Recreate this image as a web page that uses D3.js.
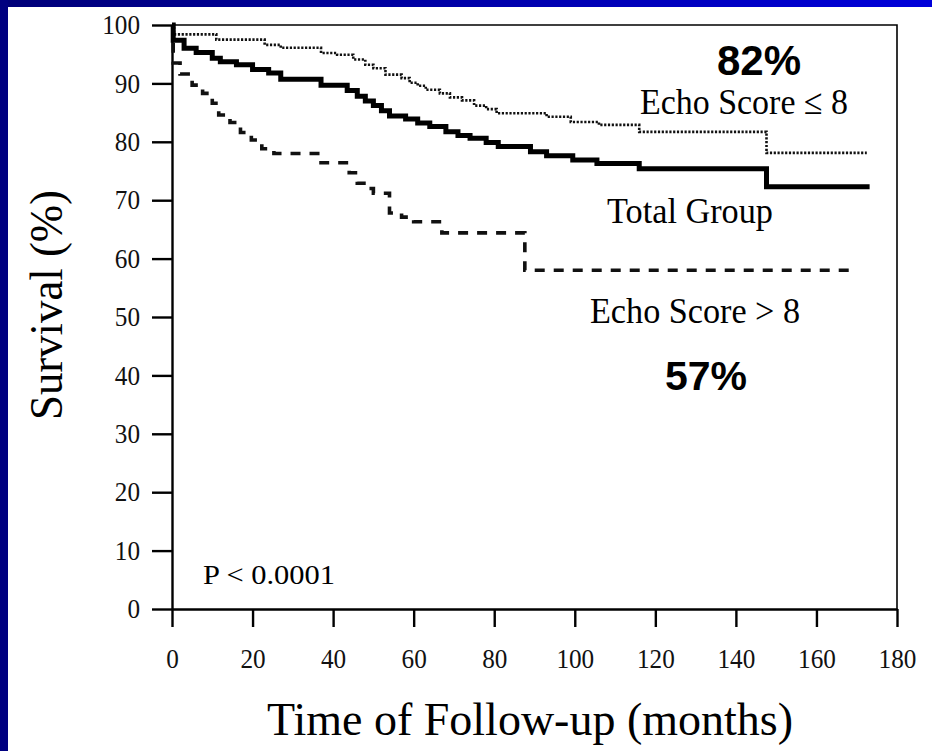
<!DOCTYPE html>
<html>
<head>
<meta charset="utf-8">
<script src="https://cdn.jsdelivr.net/npm/d3@7"></script>
<style>
  html, body { margin: 0; padding: 0; background: #ffffff; }
  svg { display: block; }
</style>
</head>
<body>
<svg id="chart" width="932" height="751"></svg>
<script>
// ---------------- DATA ----------------
// Total group (solid), Kaplan-Meier steps: time in months, survival in %
const totalTime = [0, 0.3, 3, 6, 10, 12, 16, 20, 24, 27, 37, 43.5, 46, 48, 50, 52, 54, 58, 61, 64, 68, 71, 74, 78, 81, 89, 93, 99.5, 105.5, 116, 147.6, 173.2];
const totalSurv = [100, 97.4, 96.0, 95.3, 94.3, 93.7, 93.2, 92.4, 91.8, 90.7, 89.7, 88.8, 87.8, 87.0, 86.2, 85.3, 84.4, 83.9, 83.2, 82.6, 81.7, 81.1, 80.6, 79.9, 79.2, 78.3, 77.6, 76.9, 76.3, 75.4, 72.3, 72.3];

// Echo Score <= 8 (dotted)
const lowTime = [0, 0.5, 11, 23, 27, 37, 41, 45, 48, 50, 53, 57, 59, 61, 63, 66.5, 69, 72, 75, 78, 80.6, 93, 99, 106, 116, 147.6, 172.5];
const lowSurv = [100, 98.4, 97.5, 96.6, 96.1, 95.2, 94.9, 94.1, 93.2, 92.6, 91.5, 90.9, 90.1, 89.6, 88.9, 88.3, 87.6, 87.1, 86.2, 85.6, 84.9, 84.3, 83.4, 82.9, 81.7, 78.1, 78.1];

// Echo Score > 8 (dashed)
const highTime = [0, 0.3, 2, 5, 7.6, 10, 11.6, 14.4, 17, 19.7, 22.3, 25.3, 37, 44, 46, 48.5, 50, 54, 57, 60, 67, 87.6, 169.5];
const highSurv = [100, 93.5, 91.6, 89.7, 88.3, 86.6, 84.6, 83.3, 81.6, 80.3, 78.8, 78.0, 76.4, 74.7, 72.9, 72.0, 71.2, 67.8, 67.1, 66.3, 64.4, 58.0, 58.0];

// Axis ticks
const xTicks = [0, 20, 40, 60, 80, 100, 120, 140, 160, 180];
const yTicks = [0, 10, 20, 30, 40, 50, 60, 70, 80, 90, 100];

// Text
const xTitle = "Time of Follow-up (months)";
const yTitle = "Survival (%)";
const pText = "P < 0.0001";
const labelLow = "Echo Score \u2264 8";
const labelTotal = "Total Group";
const labelHigh = "Echo Score > 8";
const pctLow = "82%";
const pctHigh = "57%";

// ---------------- DRAWING ----------------
(function () {
const svg = d3.select("#chart");
const W = 932, H = 751;

const defs = svg.append("defs");
const grad = defs.append("linearGradient").attr("id", "topgrad")
  .attr("x1", "0").attr("x2", "1").attr("y1", "0").attr("y2", "0");
grad.append("stop").attr("offset", "0").attr("stop-color", "#000078");
grad.append("stop").attr("offset", "1").attr("stop-color", "#0000da");

svg.append("rect").attr("x", 0).attr("y", 0).attr("width", W).attr("height", H).attr("fill", "#ffffff");
svg.append("rect").attr("x", 0).attr("y", 0).attr("width", W).attr("height", 7).attr("fill", "url(#topgrad)");
svg.append("rect").attr("x", 0).attr("y", 0).attr("width", 8).attr("height", H).attr("fill", "#000080");

const pLeft = 172, pRight = 897, pTop = 25, pBottom = 609;
const x = d3.scaleLinear().domain([0, 180]).range([pLeft, pRight]);
const y = d3.scaleLinear().domain([0, 100]).range([pBottom, pTop]);

const serif = "'Liberation Serif', 'Times New Roman', Times, serif";
const sans = "'Liberation Sans', Arial, Helvetica, sans-serif";

// frame (top and right)
svg.append("path")
  .attr("d", `M${x(0)},${y(100)} H${x(180)} V${y(0)}`)
  .attr("fill", "none").attr("stroke", "#000").attr("stroke-width", 1.6);

// axes
const xAxis = svg.append("g").attr("transform", `translate(0,${y(0)})`)
  .call(d3.axisBottom(x).tickValues(xTicks).tickSize(18).tickSizeOuter(0).tickPadding(22));
const yAxis = svg.append("g").attr("transform", `translate(${x(0)},0)`)
  .call(d3.axisLeft(y).tickValues(yTicks).tickSize(20).tickSizeOuter(0).tickPadding(12));

[xAxis, yAxis].forEach(g => {
  g.select(".domain").attr("stroke", "#000").attr("stroke-width", 2.4);
  g.selectAll(".tick line").attr("stroke", "#000").attr("stroke-width", 2.4);
  g.selectAll(".tick text").attr("fill", "#111")
    .style("font-family", serif).style("font-size", "27px")
    .attr("textLength", d => String(d).length * 12.6)
    .attr("lengthAdjust", "spacingAndGlyphs");
});

// curves
const line = d3.line().curve(d3.curveStepAfter).x(d => x(d[0])).y(d => y(d[1]));
const zipper = (t, s) => t.map((v, i) => [v, s[i]]);

svg.append("path").datum(zipper(lowTime, lowSurv))
  .attr("d", line).attr("fill", "none").attr("stroke", "#111")
  .attr("stroke-width", 2.6).attr("stroke-dasharray", "2.2,1.6");

svg.append("path").datum(zipper(highTime, highSurv))
  .attr("d", line).attr("fill", "none").attr("stroke", "#111")
  .attr("stroke-width", 3.6).attr("stroke-dasharray", "10,9");

svg.append("path").datum(zipper(totalTime, totalSurv))
  .attr("d", line).attr("fill", "none").attr("stroke", "#000")
  .attr("stroke-width", 5).attr("stroke-linejoin", "miter");

// labels
function label(txt, px, py, size, opts = {}) {
  const t = svg.append("text").attr("x", px).attr("y", py).text(txt)
    .style("font-family", opts.bold ? sans : serif)
    .style("font-size", size + "px")
    .style("font-weight", opts.bold ? "bold" : "normal")
    .attr("fill", "#000");
  if (opts.len) t.attr("textLength", opts.len).attr("lengthAdjust", "spacingAndGlyphs");
  if (opts.anchor) t.attr("text-anchor", opts.anchor);
  return t;
}

label(pctLow, 717, 75, 42, { bold: true });
label(labelLow, 640, 114, 36, { len: 208 });
label(labelTotal, 607, 223, 35, { len: 166 });
label(labelHigh, 590, 323, 35, { len: 210 });
label(pctHigh, 665, 390, 41, { bold: true });
label(pText, 203, 584, 28, { len: 132 });

// axis titles
label(xTitle, 530, 735, 46, { anchor: "middle", len: 526 });
svg.append("text")
  .attr("transform", `translate(62,305) rotate(-90)`)
  .attr("text-anchor", "middle")
  .style("font-family", serif).style("font-size", "46px")
  .attr("textLength", 230).attr("lengthAdjust", "spacingAndGlyphs")
  .attr("fill", "#000")
  .text(yTitle);
})();
</script>
</body>
</html>
